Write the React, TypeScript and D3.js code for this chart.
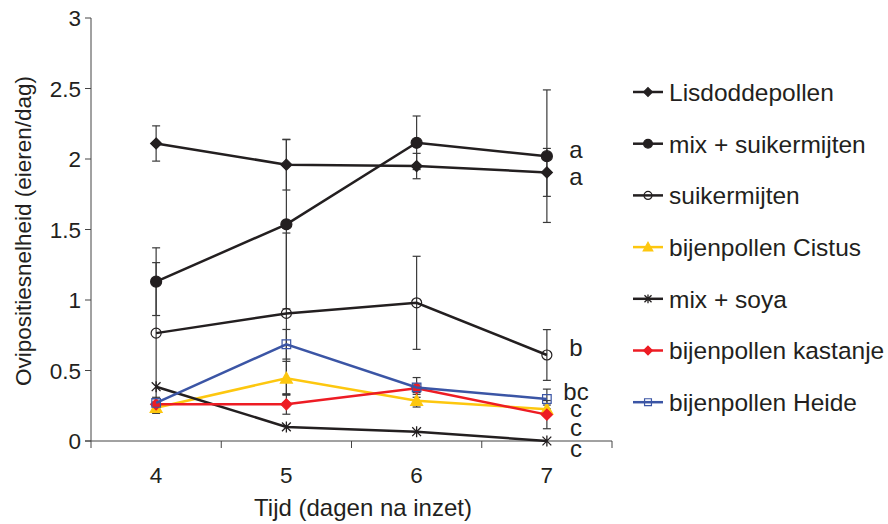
import * as d3 from "d3";
import React from "react";

// days on the x axis
const days = ["4", "5", "6", "7"];

// means per treatment (eggs per female per day)
const lisdodde = [2.11, 1.96, 1.95, 1.905];
const mixSuiker = [1.13, 1.537, 2.115, 2.02];
const suikermijten = [0.765, 0.905, 0.98, 0.61];
const cistus = [0.236, 0.445, 0.286, 0.225];
const soya = [0.385, 0.1, 0.066, 0.0];
const kastanje = [0.26, 0.26, 0.374, 0.187];
const heide = [0.27, 0.686, 0.38, 0.298];

// standard errors
const lisdoddeErr = [0.125, 0.18, 0.09, 0.17];
const mixSuikerErr = [0.24, 0.6, 0.19, 0.47];
const suikermijtenErr = [0.5, 0.57, 0.33, 0.18];
const cistusErr = [0.04, 0.12, 0.045, 0.03];
const soyaErr = [0, 0, 0, 0];
const kastanjeErr = [0.04, 0.07, 0.03, 0.1];
const heideErr = [0.04, 0.105, 0.07, 0.07];

const yTicks = [0, 0.5, 1, 1.5, 2, 2.5, 3];

// significance letters at day 7
const letters = ["a", "a", "b", "bc", "c", "c", "c"];
const letterValues = [2.07, 1.88, 0.667, 0.35, 0.234, 0.1, -0.05];

const ink = "#231f20";

type Marker = "diamond" | "dot" | "ring" | "triangle" | "star" | "square";

const series: { name: string; values: number[]; err: number[]; color: string; marker: Marker }[] = [
  { name: "Lisdoddepollen", values: lisdodde, err: lisdoddeErr, color: ink, marker: "diamond" },
  { name: "mix + suikermijten", values: mixSuiker, err: mixSuikerErr, color: ink, marker: "dot" },
  { name: "suikermijten", values: suikermijten, err: suikermijtenErr, color: ink, marker: "ring" },
  { name: "bijenpollen Cistus", values: cistus, err: cistusErr, color: "#fdc70f", marker: "triangle" },
  { name: "mix + soya", values: soya, err: soyaErr, color: ink, marker: "star" },
  { name: "bijenpollen kastanje", values: kastanje, err: kastanjeErr, color: "#ed1c24", marker: "diamond" },
  { name: "bijenpollen Heide", values: heide, err: heideErr, color: "#3b55a5", marker: "square" },
];

function markerPath(kind: Marker, r: number) {
  const p = d3.path();
  if (kind === "diamond") {
    p.moveTo(0, -r); p.lineTo(r, 0); p.lineTo(0, r); p.lineTo(-r, 0); p.closePath();
  } else if (kind === "dot" || kind === "ring") {
    p.arc(0, 0, r, 0, Math.PI * 2);
  } else if (kind === "triangle") {
    p.moveTo(0, -r); p.lineTo(r, r * 0.8); p.lineTo(-r, r * 0.8); p.closePath();
  } else if (kind === "square") {
    p.rect(-r, -r, 2 * r, 2 * r);
  } else {
    const d = r * 0.8;
    p.moveTo(0, -r); p.lineTo(0, r);
    p.moveTo(-d, -d); p.lineTo(d, d);
    p.moveTo(-d, d); p.lineTo(d, -d);
  }
  return p.toString();
}

function MarkerShape({ kind, color, x, y, scale = 1 }: { kind: Marker; color: string; x: number; y: number; scale?: number }) {
  const size: Record<Marker, number> = { diamond: 5.5, dot: 5.5, ring: 5, triangle: 6, square: 4.3, star: 5.5 };
  const r = size[kind] * scale;
  const hollow = kind === "ring" || kind === "square" || kind === "star";
  return (
    <path
      d={markerPath(kind, r)}
      transform={`translate(${x},${y})`}
      fill={hollow ? "none" : color}
      stroke={color}
      strokeWidth={kind === "star" ? 1.3 : 1.2}
    />
  );
}

export default function App() {
  const width = 888;
  const height = 524;
  const font = "'Liberation Sans', Arial, Helvetica, sans-serif";

  const x = d3.scaleBand<string>().domain(days).range([91, 612]);
  const y = d3.scaleLinear().domain([0, 3]).range([441, 18]);
  const cx = (d: string) => (x(d) ?? 0) + x.bandwidth() / 2;

  const line = d3
    .line<number>()
    .x((_, i) => cx(days[i]))
    .y((v) => y(v));

  const bounds = [...days.map((d) => x(d) ?? 0), 612];

  return (
    <svg width={width} height={height} style={{ position: "absolute", left: 0, top: 0, background: "#fff" }} fontFamily={font}>
      {/* axes */}
      <line x1={91} x2={91} y1={y(3)} y2={y(0)} stroke="#444" strokeWidth={1} />
      {yTicks.map((t) => (
        <g key={t}>
          <line x1={85} x2={91} y1={y(t)} y2={y(t)} stroke="#444" />
          <text x={81} y={y(t)} dy="0.36em" textAnchor="end" fontSize={22.5} fill={ink}>
            {d3.format("~g")(t)}
          </text>
        </g>
      ))}
      <line x1={85} x2={612} y1={y(0)} y2={y(0)} stroke="#444" strokeWidth={1} />
      {bounds.map((b) => (
        <line key={b} x1={b} x2={b} y1={y(0)} y2={y(0) + 7} stroke="#444" />
      ))}
      {days.map((d) => (
        <text key={d} x={cx(d)} y={483} textAnchor="middle" fontSize={22.5} fill={ink}>
          {d}
        </text>
      ))}
      <text x={363} y={516} textAnchor="middle" fontSize={24} fill={ink}>
        Tijd (dagen na inzet)
      </text>
      <text transform="translate(31,231) rotate(-90)" textAnchor="middle" fontSize={22.5} fill={ink}>
        Ovipositiesnelheid (eieren/dag)
      </text>

      {/* error bars */}
      {series.map((s) =>
        s.values.map((v, i) =>
          s.err[i] > 0 ? (
            <g key={s.name + i} stroke="#3a3a3a" strokeWidth={1.2}>
              <line x1={cx(days[i])} x2={cx(days[i])} y1={y(v + s.err[i])} y2={y(v - s.err[i])} />
              <line x1={cx(days[i]) - 4} x2={cx(days[i]) + 4} y1={y(v + s.err[i])} y2={y(v + s.err[i])} />
              <line x1={cx(days[i]) - 4} x2={cx(days[i]) + 4} y1={y(v - s.err[i])} y2={y(v - s.err[i])} />
            </g>
          ) : null
        )
      )}

      {/* lines and markers */}
      {series.map((s) => (
        <g key={s.name}>
          <path d={line(s.values) ?? ""} fill="none" stroke={s.color} strokeWidth={2.5} />
          {s.values.map((v, i) => (
            <MarkerShape key={i} kind={s.marker} color={s.color} x={cx(days[i])} y={y(v)} />
          ))}
        </g>
      ))}

      {/* significance letters */}
      {letters.map((l, i) => (
        <text key={i} x={576} y={y(letterValues[i])} dy="0.36em" textAnchor="middle" fontSize={24} fill={ink}>
          {l}
        </text>
      ))}

      {/* legend */}
      {series.map((s, i) => {
        const ly = 92 + i * 51.7;
        return (
          <g key={s.name}>
            <line x1={633} x2={663} y1={ly} y2={ly} stroke={s.color} strokeWidth={2.5} />
            <MarkerShape kind={s.marker} color={s.color} x={648} y={ly} scale={0.8} />
            <text x={669} y={ly} dy="0.36em" fontSize={24.5} fill={ink}>
              {s.name}
            </text>
          </g>
        );
      })}
    </svg>
  );
}
